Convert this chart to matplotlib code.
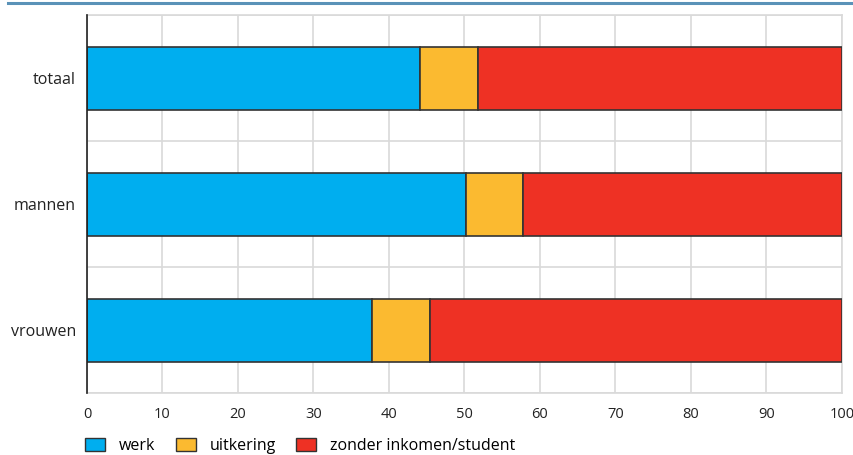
import numpy as np
import matplotlib
matplotlib.use('agg')
import matplotlib.pyplot as plt
from matplotlib.patches import Patch
from matplotlib.lines import Line2D

#------------------------------------------------------------------------------
# DATA
#------------------------------------------------------------------------------

categories = ['totaal', 'mannen', 'vrouwen']
series_names = ['werk', 'uitkering', 'zonder inkomen/student']
werk = [44.1, 50.2, 37.8]
uitkering = [7.7, 7.5, 7.6]
zonder = [48.2, 42.3, 54.6]
xticks = [0, 10, 20, 30, 40, 50, 60, 70, 80, 90, 100]

colors = ['#00aeef', '#fbba30', '#ee3124']

#------------------------------------------------------------------------------
# PLOT
#------------------------------------------------------------------------------

plt.rcParams['font.family'] = ['Open Sans', 'DejaVu Sans']

fig = plt.figure(figsize=(8.54, 4.55), dpi=100)
ax = fig.add_axes([87/854, 1-393/455, (842-87)/854, (393-15)/455])

y = np.arange(len(categories))
left = np.zeros(len(categories))
for vals, c, name in zip([werk, uitkering, zonder], colors, series_names):
    ax.barh(y, vals, left=left, height=0.5, color=c, edgecolor='#333333', linewidth=1.2, label=name, zorder=3)
    left = left + np.array(vals)

ax.set_xlim(0, 100)
ax.set_ylim(2.5, -0.5)
ax.set_yticks(y)
ax.set_yticklabels(categories, fontsize=11.5, color='#222222')
ax.set_xticks(xticks)
ax.set_xticklabels([str(t) for t in xticks], fontsize=10.5, color='#222222')
ax.set_yticks([-0.5, 0.5, 1.5, 2.5], minor=True)
ax.tick_params(axis='y', length=0, pad=8)
ax.tick_params(axis='x', length=0, pad=10)
ax.tick_params(axis='y', which='minor', length=0)
ax.grid(axis='x', color='#d9d9d9', linewidth=1.2, zorder=0)
ax.grid(axis='y', which='minor', color='#d9d9d9', linewidth=1.2, zorder=0)
for s in ['top', 'right', 'bottom']:
    ax.spines[s].set_color('#d9d9d9')
    ax.spines[s].set_linewidth(1.2)
ax.spines['left'].set_color('#222222')
ax.spines['left'].set_linewidth(1.2)
ax.spines['left'].set_zorder(4)

# top rule
fig.add_artist(Line2D([8/854, 1.0], [1-3/455, 1-3/455], color='#5a92b8', linewidth=2.2))

handles = [Patch(facecolor=c, edgecolor='#333333', linewidth=1.0) for c in colors]
fig.legend(handles, series_names, loc='center left', bbox_to_anchor=(74/854, 1-446/455),
           ncol=3, frameon=False, fontsize=11.5, handlelength=1.25, handleheight=0.8,
           handletextpad=0.85, columnspacing=1.3, borderpad=0.2)

plt.savefig('out.png', dpi=100)
plt.close('all')
